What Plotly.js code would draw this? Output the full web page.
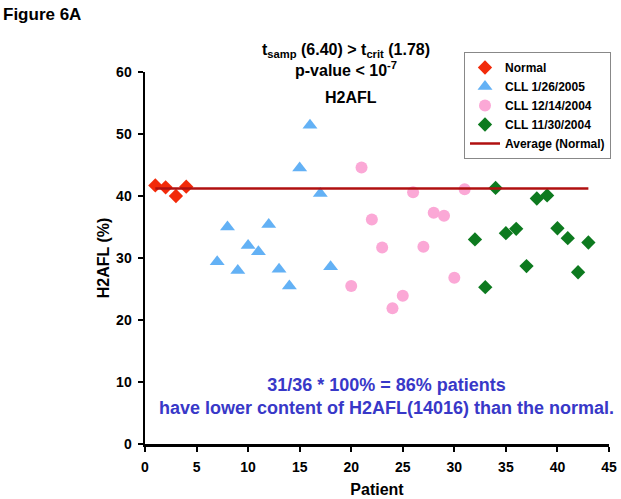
<!DOCTYPE html>
<html>
<head>
<meta charset="utf-8">
<script src="https://cdn.plot.ly/plotly-3.0.1.min.js"></script>
<style>html,body{margin:0;padding:0;background:#fff;}#chart{width:621px;height:499px;}</style>
</head>
<body>
<div id="chart"></div>
<script>
const normalPatients = [1, 2, 3, 4];
const normalValues = [41.7, 41.4, 40.0, 41.5];

const cll0126Patients = [7, 8, 9, 10, 11, 12, 13, 14, 15, 16, 17, 18];
const cll0126Values = [29.4, 35.0, 28.0, 32.0, 31.0, 35.4, 28.2, 25.5, 44.5, 51.4, 40.4, 28.6];

const cll1214Patients = [20, 21, 22, 23, 24, 25, 26, 27, 28, 29, 30, 31];
const cll1214Values = [25.5, 44.6, 36.2, 31.7, 21.9, 23.9, 40.6, 31.8, 37.3, 36.8, 26.8, 41.1];

const cll1130Patients = [32, 33, 34, 35, 36, 37, 38, 39, 40, 41, 42, 43];
const cll1130Values = [33.0, 25.3, 41.3, 34.0, 34.7, 28.7, 39.6, 40.1, 34.8, 33.2, 27.7, 32.5];

const averagePatients = [1, 43];
const averageValues = [41.2, 41.2];

const xTicks = [0, 5, 10, 15, 20, 25, 30, 35, 40, 45];
const yTicks = [0, 10, 20, 30, 40, 50, 60];

const FONT = 'Liberation Sans, Arial, Helvetica, sans-serif';

const traces = [
  {x: normalPatients, y: normalValues, name: 'Normal', type: 'scatter', mode: 'markers',
   marker: {symbol: 'diamond', size: 11, color: '#f22a0a'}},
  {x: cll0126Patients, y: cll0126Values, name: 'CLL 1/26/2005', type: 'scatter', mode: 'markers',
   marker: {symbol: 'triangle-up', size: 13, color: '#63b1f5'}},
  {x: cll1214Patients, y: cll1214Values, name: 'CLL 12/14/2004', type: 'scatter', mode: 'markers',
   marker: {symbol: 'circle', size: 12, color: '#fba8d6'}},
  {x: cll1130Patients, y: cll1130Values, name: 'CLL 11/30/2004', type: 'scatter', mode: 'markers',
   marker: {symbol: 'diamond', size: 11, color: '#0d7a1f'}},
  {x: averagePatients, y: averageValues, name: 'Average (Normal)', type: 'scatter', mode: 'lines',
   line: {color: '#b01010', width: 2.5}}
];

const layout = {
  width: 621, height: 499,
  margin: {l: 145, r: 11, t: 72, b: 55},
  paper_bgcolor: '#fff', plot_bgcolor: '#fff',
  font: {family: FONT, size: 12, color: '#000', weight: 'bold'},
  showlegend: true,
  legend: {
    xref: 'paper', yref: 'paper', xanchor: 'left', yanchor: 'top',
    bordercolor: '#888', borderwidth: 1, bgcolor: '#fff',
    font: {family: FONT, size: 12, color: '#000', weight: 'bold'},
    tracegroupgap: 0, itemwidth: 30
  },
  xaxis: {
    range: [0, 45], tickvals: xTicks, ticktext: xTicks.map(String),
    showgrid: false, zeroline: false, showline: true, linecolor: '#000', linewidth: 2.5,
    ticks: 'outside', ticklen: 5, tickwidth: 2, tickcolor: '#000', ticklabelstandoff: 4,
    tickfont: {family: FONT, size: 14, weight: 'bold'},
    title: {text: 'Patient', font: {family: FONT, size: 16, weight: 'bold'}, standoff: 10}
  },
  yaxis: {
    range: [0, 60], tickvals: yTicks, ticktext: yTicks.map(String),
    showgrid: false, zeroline: false, showline: true, linecolor: '#000', linewidth: 2.5,
    ticks: 'outside', ticklen: 5, tickwidth: 2, tickcolor: '#000', ticklabelstandoff: 3,
    tickfont: {family: FONT, size: 14, weight: 'bold'},
    title: {text: 'H2AFL (%)', font: {family: FONT, size: 16, weight: 'bold'}, standoff: 3}
  },
  annotations: [
    {text: 'Figure 6A', xref: 'paper', yref: 'paper', showarrow: false,
     xanchor: 'left', yanchor: 'top', font: {family: FONT, size: 17, weight: 'bold'}},
    {text: 't<sub>samp</sub> (6.40) &gt; t<sub>crit</sub> (1.78)', xref: 'paper', yref: 'paper',
     showarrow: false, xanchor: 'center', yanchor: 'middle', font: {family: FONT, size: 16, weight: 'bold'}},
    {text: 'p-value &lt; 10<sup>-7</sup>', xref: 'paper', yref: 'paper',
     showarrow: false, xanchor: 'center', yanchor: 'middle', font: {family: FONT, size: 16, weight: 'bold'}},
    {text: 'H2AFL', xref: 'paper', yref: 'paper',
     showarrow: false, xanchor: 'center', yanchor: 'middle', font: {family: FONT, size: 16, weight: 'bold'}},
    {text: '31/36 * 100% = 86% patients<br>have lower content of H2AFL(14016) than the normal.', xref: 'paper', yref: 'paper',
     showarrow: false, xanchor: 'center', yanchor: 'middle', align: 'center',
     font: {family: FONT, size: 18, weight: 'bold', color: '#3838c8'}}
  ]
};

// pixel placement helpers (converted to paper coordinates)
const plotL = 145, plotT = 72, plotW = 621 - 145 - 11, plotH = 499 - 72 - 55;
function px(x) { return (x - plotL) / plotW; }
function py(y) { return (plotT + plotH - y) / plotH; }
layout.legend.x = px(464); layout.legend.y = py(52);
layout.annotations[0].x = px(1); layout.annotations[0].y = py(3);
layout.annotations[1].x = px(346); layout.annotations[1].y = py(50);
layout.annotations[2].x = px(346); layout.annotations[2].y = py(69);
layout.annotations[3].x = px(351); layout.annotations[3].y = py(97);
layout.annotations[4].x = px(387); layout.annotations[4].y = py(396);

Plotly.newPlot('chart', traces, layout, {displayModeBar: false, staticPlot: true});
</script>
</body>
</html>
